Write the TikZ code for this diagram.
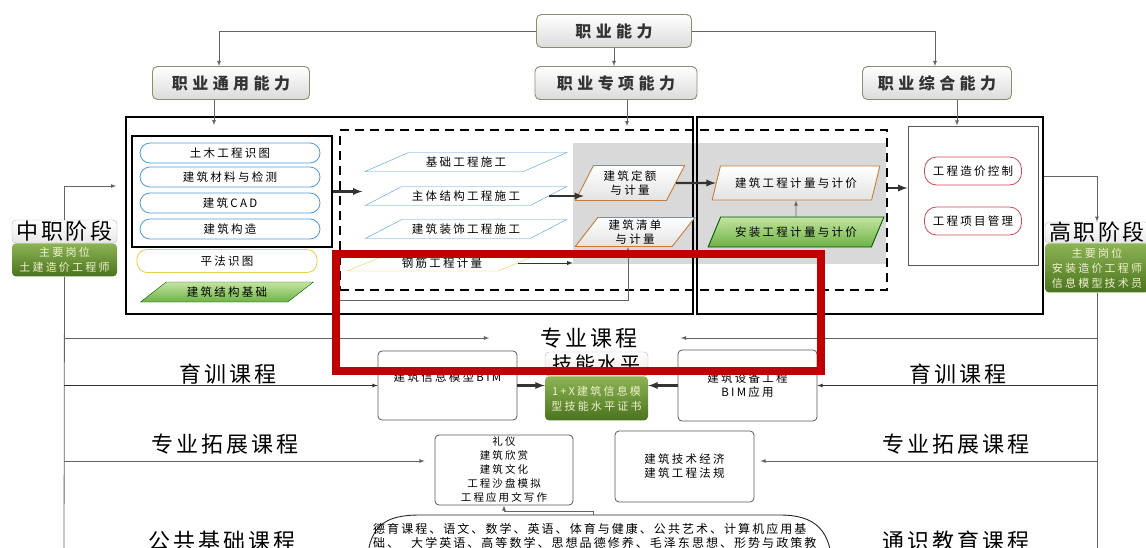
\documentclass[tikz,border=0pt]{standalone}
\usepackage{fontspec}
\setmainfont{Noto Sans CJK SC}[LetterSpace=20]
\usepackage{tikz}
\usetikzlibrary{shapes.geometric, positioning}

\definecolor{edgeolive}{RGB}{140,140,110}
\definecolor{linegray}{RGB}{100,100,100}
\definecolor{blueedge}{RGB}{80,155,215}
\definecolor{yellowedge}{RGB}{235,205,80}
\definecolor{orangeedge}{RGB}{195,125,60}
\definecolor{rededge}{RGB}{205,75,85}
\definecolor{greenlight}{RGB}{195,228,160}
\definecolor{greenmid}{RGB}{110,178,70}
\definecolor{stagetop}{RGB}{140,180,85}
\definecolor{stagebot}{RGB}{75,115,30}
\definecolor{stagetext}{RGB}{240,240,205}
\definecolor{zonegray}{RGB}{217,217,217}
\definecolor{markred}{RGB}{192,0,0}

\newcommand{\smallcn}{\fontsize{11.5}{14}\selectfont}
\newcommand{\headcn}{\fontsize{16}{18}\selectfont\bfseries\addfontfeature{LetterSpace=28}}
\newcommand{\coursecn}{\fontsize{22}{24}\selectfont\addfontfeature{LetterSpace=13}}
\newcommand{\stagecn}{\fontsize{22}{24}\selectfont\addfontfeature{LetterSpace=12}}
\newcommand{\skillcn}{\fontsize{20}{22}\selectfont\addfontfeature{LetterSpace=14}}
\newcommand{\stagesmall}{\fontsize{11}{15}\selectfont}
\newcommand{\tinycn}{\fontsize{10.5}{14}\selectfont}
\newcommand{\blobcn}{\fontsize{12}{14}\selectfont\addfontfeature{LetterSpace=17}}

\tikzset{
	headbox/.style   = {shape=rectangle, rounded corners=5pt, draw=edgeolive,
		line width=0.9pt, top color=white, bottom color=gray!28,
		text=black!80, font=\headcn, minimum height=33pt},
	course/.style    = {shape=rectangle, rounded corners=10pt, draw=#1,
		line width=0.8pt, fill=white, minimum height=20pt,
		minimum width=180pt, font=\smallcn, inner sep=1pt},
	slant/.style     = {trapezium, trapezium stretches=true,
		trapezium left angle=#1, trapezium right angle=180-#1,
		inner sep=1pt, font=\smallcn, align=center},
	plainbox/.style  = {shape=rectangle, rounded corners=4pt,
		draw=gray!70!black, line width=0.8pt, fill=white,
		font=\smallcn, align=center},
	stagehead/.style = {shape=rectangle, rounded corners=4pt, draw=gray!60,
		top color=white, bottom color=gray!18, inner sep=0pt},
	stagebody/.style = {shape=rectangle, rounded corners=4pt,
		top color=stagetop, bottom color=stagebot, text=stagetext,
		font=\stagesmall, align=center, inner sep=0pt},
	flow/.style      = {draw=linegray, line width=0.8pt, -latex},
	bigflow/.style   = {draw=gray!40!black, line width=2.2pt, -latex}
}

\begin{document}
\begin{tikzpicture}[x=1pt, y=-1pt]
	\useasboundingbox (0,0) rectangle (1146,547);
	\clip (0,0) rectangle (1146,547);
	\fill[white] (0,0) rectangle (1146,547);

	% frames
	\node [fill=zonegray, minimum width=313pt, minimum height=121pt, inner sep=0pt] (grayzone) at (729.5,203.5) {};
	\node [draw, dash pattern=on 9pt off 6pt, line width=1.1pt, minimum width=547pt, minimum height=160pt, inner sep=0pt] (dashbox) at (613.5,210) {};
	\node [draw, line width=1.6pt, minimum width=567pt, minimum height=197pt, inner sep=0pt] (genbox) at (409.5,215.5) {};
	\node [draw, line width=1.6pt, minimum width=346pt, minimum height=197pt, inner sep=0pt] (zhbox) at (870,215.5) {};
	\node [draw, line width=1.3pt, minimum width=200pt, minimum height=111pt, inner sep=0pt] (basebox) at (232,191.5) {};
	\node [draw=gray!70!black, line width=0.9pt, fill=white, minimum width=130pt, minimum height=139pt, inner sep=0pt] (rightbox) at (973,195.5) {};

	% abilities
	\node [headbox, minimum width=155pt] (zhiye) at (614,31) {职业能力};
	\node [headbox, minimum width=157pt] (tongyong) at (231,83) {职业通用能力};
	\node [headbox, minimum width=162pt] (zhuanxiang) at (616,83) {职业专项能力};
	\node [headbox, minimum width=149pt] (zonghe) at (937,83) {职业综合能力};

	\draw [flow] (zhiye.west) -| ([xshift=-12pt]tongyong.north);
	\draw [flow] (zhiye.east) -| ([xshift=-2pt]zonghe.north);
	\draw [flow] (zhiye.south) -- (zhiye.south |- zhuanxiang.north);
	\draw [flow, shorten >=-9pt] ([xshift=-17pt]tongyong.south) -- ([xshift=-17pt]tongyong.south |- genbox.north);
	\draw [flow, shorten >=-10pt] ([xshift=11pt]zhuanxiang.south) -- ([xshift=11pt]zhuanxiang.south |- genbox.north);
	\draw [flow] ([xshift=20pt]zonghe.south) -- ([xshift=20pt]zonghe.south |- rightbox.north);

	% basic courses
	\node [course=blueedge] (shitu) at (230,153) {土木工程识图};
	\node [course=blueedge] (cailiao) at (230,177) {建筑材料与检测};
	\node [course=blueedge] (cad) at (230,203) {建筑CAD};
	\node [course=blueedge] (gouzao) at (230,229) {建筑构造};
	\node [course=yellowedge, minimum height=23pt] (pingfa) at (227,261) {平法识图};
	\node [slant=36, draw=green!35!black, top color=greenlight, bottom color=greenmid, minimum width=173pt, minimum height=20pt] (jiegou) at (227,292) {建筑结构基础};

	% special courses
	\node [slant=22, draw=blueedge, fill=white, minimum width=202pt, minimum height=19pt] (jichu) at (466,162) {基础工程施工};
	\node [slant=22, draw=blueedge, fill=white, minimum width=202pt, minimum height=19pt] (zhuti) at (466,196) {主体结构工程施工};
	\node [slant=22, draw=blueedge, fill=white, minimum width=202pt, minimum height=19pt] (zhuangshi) at (466,229) {建筑装饰工程施工};
	\node [slant=24, draw=yellowedge, fill=white, minimum width=190pt, minimum height=16pt] (gangjin) at (442,263) {钢筋工程计量};

	\node [slant=63, draw=orangeedge, line width=0.9pt, top color=white, bottom color=gray!22, minimum width=110pt, minimum height=35pt] (dinge) at (630,183) {建筑定额\\与计量};
	\node [slant=58, draw=orangeedge, line width=0.9pt, top color=white, bottom color=gray!22, minimum width=120pt, minimum height=29pt] (qingdan) at (635,232) {建筑清单\\与计量};
	\node [slant=62, draw=orangeedge, line width=0.9pt, top color=white, bottom color=gray!22, minimum width=168pt, minimum height=34pt] (jisuan) at (796,183) {建筑工程计量与计价};
	\node [slant=51, draw=green!35!black, line width=0.9pt, top color=greenlight, bottom color=greenmid, minimum width=176pt, minimum height=30pt] (anzhuang) at (796,232) {安装工程计量与计价};

	\node [course=rededge, minimum width=97pt, minimum height=28pt, rounded corners=12pt] (kongzhi) at (973,171) {工程造价控制};
	\node [course=rededge, minimum width=97pt, minimum height=28pt, rounded corners=12pt] (guanli) at (973,221) {工程项目管理};

	\draw [bigflow] (basebox.east) -- ([xshift=23pt]dashbox.west |- basebox.east);
	\draw [bigflow] (zhuti.east) -- (zhuti.east -| dinge.west);
	\draw [flow, draw=gray!40!black, line width=1pt] (gangjin.east) -- (gangjin.east -| grayzone.west);
	\coordinate (jgout) at (332,283);
	\coordinate (jgturn) at (628,300);
	\draw [flow] (jgout) |- (jgturn) -- (jgturn |- qingdan.south);
	\draw [bigflow] (dinge.east) -- (jisuan.west);
	\draw [flow] (anzhuang.north) -- (jisuan.south);
	\draw [bigflow] ([yshift=22pt]dashbox.east) -- ([yshift=22pt]dashbox.east -| rightbox.west);

	% stages
	\node [stagehead, minimum width=105pt, minimum height=23pt, font=\stagecn] (zhonghead) at (64.5,231.5) {中职阶段};
	\node [stagebody, minimum width=105pt, minimum height=33pt, below=0pt of zhonghead] (zhongbody) {主要岗位\\土建造价工程师};
	\node [stagehead, minimum width=104pt, minimum height=21pt, font=\stagecn] (gaohead) at (1097,232.5) {高职阶段};
	\node [stagebody, minimum width=104pt, minimum height=49pt, below=0pt of gaohead] (gaobody) {主要岗位\\安装造价工程师\\信息模型技术员};

	\draw [flow] (zhonghead.north) |- ([shift={(-9pt,29.5pt)}]genbox.west);
	\draw [flow] ([yshift=39.5pt]zhbox.east) -| (gaohead.north);

	\coordinate (lend) at (64,560);
	\coordinate (rend) at (1097,560);
	\coordinate (rowC) at (0,461);
	\draw [draw=linegray, line width=0.8pt] (zhongbody.south) -- (lend);
	\draw [draw=linegray, line width=0.8pt] (gaobody.south) -- (rend);

	% course rows
	\node [font=\coursecn] (zhuanye) at (589,338) {专业课程};
	\node [font=\coursecn] (yuxunL) at (228,374) {育训课程};
	\node [font=\coursecn] (yuxunR) at (958,374) {育训课程};
	\node [font=\coursecn] (tuozhanL) at (225,444) {专业拓展课程};
	\node [font=\coursecn] (tuozhanR) at (956,444) {专业拓展课程};
	\node [font=\coursecn] (gonggongL) at (222,541) {公共基础课程};
	\node [font=\coursecn] (tongshiR) at (956,541) {通识教育课程};

	\node [plainbox, minimum width=139pt, minimum height=69pt, text depth=17pt] (bim) at (447.5,385.5) {建筑信息模型BIM};
	\node [plainbox, minimum width=139pt, minimum height=71pt] (shebei) at (747.5,385.5) {建筑设备工程\\BIM应用};
	\node [stagehead, minimum width=103pt, minimum height=24pt, font=\skillcn] (skillhead) at (596.5,364) {技能水平};
	\node [stagebody, minimum width=103pt, minimum height=44pt, below=0pt of skillhead] (skillbody) {1+X建筑信息模\\型技能水平证书};
	\node [plainbox, minimum width=138pt, minimum height=70pt, inner ysep=0pt, font=\tinycn] (liyi) at (504,470) {礼仪\\建筑欣赏\\建筑文化\\工程沙盘模拟\\工程应用文写作};
	\node [plainbox, minimum width=139pt, minimum height=71pt] (jingji) at (684.5,466.5) {建筑技术经济\\建筑工程法规};

	\draw [flow] (lend |- zhuanye.west) -- ([xshift=-48pt]zhuanye.west);
	\draw [flow] (rend |- zhuanye.east) -- ([xshift=40pt]zhuanye.east);
	\draw [flow, draw=black!80] (lend |- bim.west) -- (bim.west);
	\draw [flow, draw=black!80] (rend |- shebei.east) -- (shebei.east);
	\draw [flow] (lend |- rowC) -- ([xshift=-10pt]liyi.west |- rowC);
	\draw [flow] (rend |- rowC) -- ([xshift=6pt]jingji.east |- rowC);
	\draw [bigflow] (bim.east) -- (bim.east -| skillbody.west);
	\draw [bigflow] (shebei.west) -- (shebei.west -| skillbody.east);

	% public courses
	\draw [line width=0.9pt, draw=gray!30!black, fill=white] (367,570) .. controls (367,525) and (385,515) .. (420,515) -- (780,515) .. controls (815,515) and (832,530) .. (832,570);
	\node [font=\blobcn, align=left, anchor=north west, inner sep=0pt] (gonggong) at (373,523) {德育课程、语文、数学、英语、体育与健康、公共艺术、计算机应用基\\础、\quad 大学英语、高等数学、思想品德修养、毛泽东思想、形势与政策教};
	\coordinate (blobtop) at (593,515);
	\draw [flow] (blobtop) -- ++(0,-4) -| (liyi.south);

	% highlight
	\draw [markred, line width=8pt] (336,254) rectangle (821,371);
\end{tikzpicture}
\end{document}
